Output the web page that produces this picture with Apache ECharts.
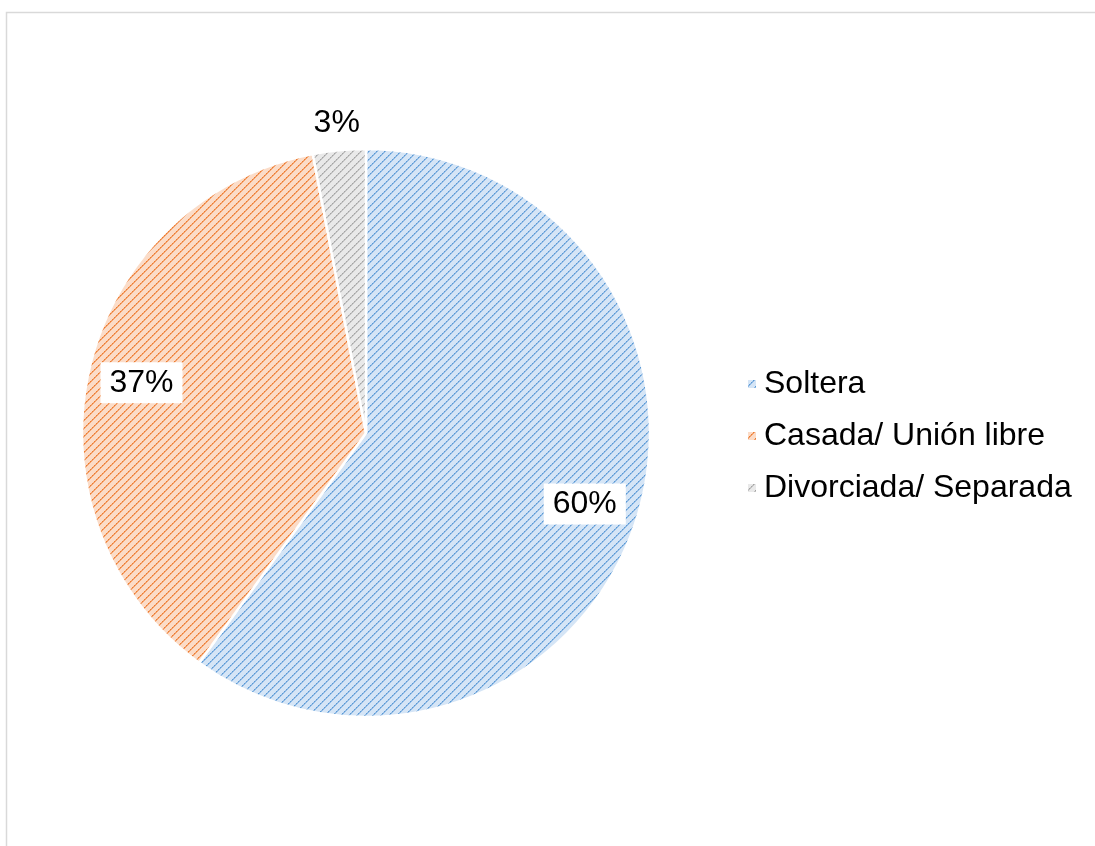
<!DOCTYPE html>
<html>
<head>
<meta charset="utf-8">
<script src="https://cdn.jsdelivr.net/npm/echarts@6/dist/echarts.min.js"></script>
<style>
  html, body { margin: 0; padding: 0; background: #fff; }
  #chart { width: 1095px; height: 846px; }
</style>
</head>
<body>
<div id="chart"></div>
<script>
// Estado civil (porcentaje)
const categories = ['Soltera', 'Casada/ Unión libre', 'Divorciada/ Separada'];
const values = [60, 37, 3];
const lineColors = ['#5b9bd5', '#ed7d31', '#a5a5a5'];
const midColors = ['#8fb9e4', '#f3a06a', '#c2c2c2'];
const baseColors = ['#d5e5f6', '#fbdcc8', '#e9e9e9'];

// Diagonal dotted hatch used to fill each slice
function hatch(base, mid, line) {
  const s = 8;
  const c = document.createElement('canvas');
  c.width = s; c.height = s;
  const g = c.getContext('2d');
  g.fillStyle = base;
  g.fillRect(0, 0, s, s);
  for (let k = 0; k < s; k++) {
    const y = s - 1 - k;
    g.fillStyle = k % 2 === 0 ? line : mid;
    g.fillRect(k, y, 1, 1);
    g.fillStyle = mid;
    g.fillRect((k + 1) % s, y, 1, 1);
  }
  return { image: c, repeat: 'repeat' };
}

const CX = 366, CY = 433, R = 284;
const total = values.reduce((a, b) => a + b, 0);
const FONT = 'Liberation Sans, Arial, sans-serif';

const chart = echarts.init(document.getElementById('chart'), null, { renderer: 'canvas' });
chart.setOption({
  animation: false,
  backgroundColor: '#ffffff',
  graphic: [{
    type: 'rect',
    shape: { x: 6.5, y: 12.5, width: 1200, height: 900 },
    style: { fill: 'none', stroke: '#d9d9d9', lineWidth: 1.5 },
    silent: true
  }],
  legend: {
    orient: 'vertical',
    left: 741,
    top: 363,
    itemWidth: 10,
    itemHeight: 10,
    itemGap: 20,
    icon: 'rect',
    textStyle: {
      fontFamily: FONT,
      fontSize: 32,
      lineHeight: 32,
      color: '#000',
      padding: [0, 0, 0, 2]
    },
    data: categories
  },
  series: [{
    type: 'pie',
    center: [CX, CY],
    radius: R,
    startAngle: 90,
    clockwise: true,
    data: categories.map((name, i) => ({
      name,
      value: values[i],
      itemStyle: { color: hatch(baseColors[i], midColors[i], lineColors[i]) }
    })),
    itemStyle: { borderColor: '#ffffff', borderWidth: 2.5 },
    label: {
      show: true,
      position: 'inside',
      formatter: p => p.value + '%',
      fontFamily: FONT,
      fontSize: 32,
      color: '#000',
      backgroundColor: '#ffffff',
      padding: [5, 9, 4, 9]
    },
    labelLine: { show: false },
    emphasis: { disabled: true },
    labelLayout: function (params) {
      const i = params.dataIndex;
      let before = 0;
      for (let k = 0; k < i; k++) before += values[k];
      const mid = (before + values[i] / 2) / total * Math.PI * 2;
      const f = values[i] / total < 0.1 ? 1.095 : 0.81;
      return {
        x: CX + R * f * Math.sin(mid),
        y: CY - R * f * Math.cos(mid),
        align: 'center',
        verticalAlign: 'middle'
      };
    }
  }]
});
</script>
</body>
</html>
